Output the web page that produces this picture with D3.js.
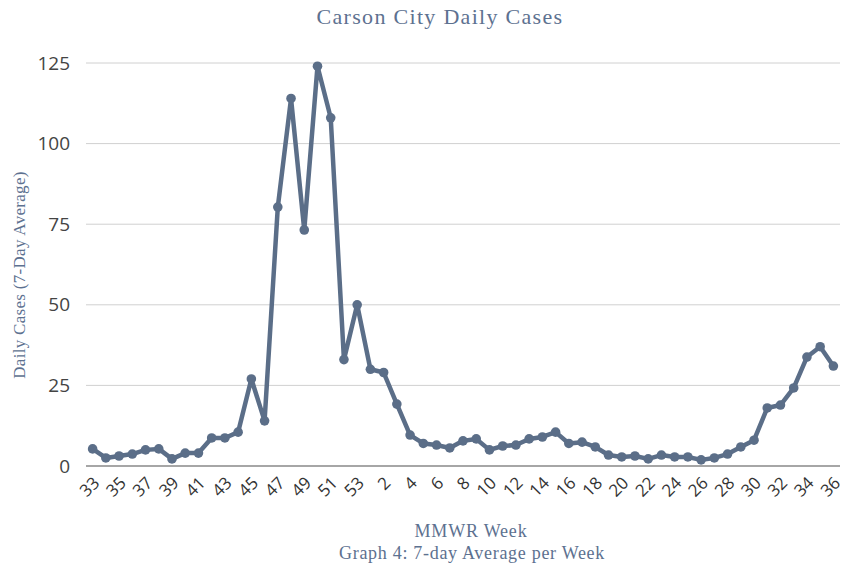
<!DOCTYPE html>
<html>
<head>
<meta charset="utf-8">
<script src="https://cdn.jsdelivr.net/npm/d3@7"></script>
<style>
  body { margin: 0; background: #fff; }
  svg { display: block; }
</style>
</head>
<body>
<div id="chart"></div>
<script>
// MMWR weeks: 33..53 of one year, then 1..36 of the next
const weeks = [
  33, 34, 35, 36, 37, 38, 39, 40, 41, 42, 43, 44, 45, 46, 47, 48, 49, 50, 51, 52, 53,
  1, 2, 3, 4, 5, 6, 7, 8, 9, 10, 11, 12, 13, 14, 15, 16, 17, 18, 19, 20,
  21, 22, 23, 24, 25, 26, 27, 28, 29, 30, 31, 32, 33, 34, 35, 36
];

const dailyCases = [
  5.3, 2.5, 3.1, 3.7, 5.0, 5.3, 2.2, 4.0, 4.0, 8.7, 8.7, 10.5, 27.0, 14.0, 80.3, 114.0, 73.2, 124.0, 108.0, 33.0, 50.0,
  30.0, 29.0, 19.2, 9.6, 7.0, 6.5, 5.6, 7.8, 8.4, 5.0, 6.2, 6.5, 8.4, 9.0, 10.5, 7.0, 7.4, 5.9, 3.4, 2.8,
  3.1, 2.2, 3.4, 2.8, 2.8, 1.9, 2.5, 3.7, 5.9, 8.0, 18.0, 18.9, 24.2, 33.8, 37.0, 31.0
];

const yTicks = [0, 25, 50, 75, 100, 125];

const width = 859;
const height = 567;
const margin = { top: 63, right: 19, bottom: 101, left: 86 };

const lineColor = '#5b6e88';
const textColor = '#5d7190';

// each point gets its own key, since week numbers repeat across years
const data = weeks.map(function (w, i) {
  return { key: i, week: w, value: dailyCases[i] };
});

const svg = d3.select('#chart')
  .append('svg')
  .attr('width', width)
  .attr('height', height);

const x = d3.scaleBand()
  .domain(data.map(function (d) { return d.key; }))
  .range([margin.left, width - margin.right]);

const y = d3.scaleLinear()
  .domain([0, 125])
  .range([height - margin.bottom, margin.top]);

// gridlines
svg.append('g')
  .selectAll('line')
  .data(yTicks.filter(function (t) { return t > 0; }))
  .enter()
  .append('line')
  .attr('x1', margin.left)
  .attr('x2', width - margin.right)
  .attr('y1', function (d) { return y(d); })
  .attr('y2', function (d) { return y(d); })
  .attr('stroke', '#d0d0d0')
  .attr('stroke-width', 1);

// y axis labels
const yAxis = svg.append('g')
  .attr('transform', 'translate(' + margin.left + ',0)')
  .call(d3.axisLeft(y).tickValues(yTicks).tickSize(0).tickPadding(16));
yAxis.select('.domain').remove();
yAxis.selectAll('text')
  .attr('fill', '#444')
  .style('font-family', '"Open Sans", sans-serif')
  .style('font-size', '19px');

// baseline
svg.append('line')
  .attr('x1', margin.left)
  .attr('x2', width - margin.right)
  .attr('y1', y(0))
  .attr('y2', y(0))
  .attr('stroke', '#a6a6a6')
  .attr('stroke-width', 2);

// x axis labels, every other week, rotated
const xAxis = svg.append('g')
  .attr('transform', 'translate(0,' + y(0) + ')')
  .call(d3.axisBottom(x)
    .tickValues(data.filter(function (d, i) { return i % 2 === 0; }).map(function (d) { return d.key; }))
    .tickFormat(function (k) { return weeks[k]; })
    .tickSize(0));
xAxis.select('.domain').remove();
xAxis.selectAll('text')
  .attr('fill', '#333')
  .style('font-family', '"Open Sans", sans-serif')
  .style('font-size', '17px')
  .style('text-anchor', 'end')
  .attr('dy', null)
  .attr('y', 0)
  .attr('transform', 'translate(8,18) rotate(-45)');

// the line
const line = d3.line()
  .x(function (d) { return x(d.key) + x.bandwidth() / 2; })
  .y(function (d) { return y(d.value); });

svg.append('path')
  .datum(data)
  .attr('d', line)
  .attr('fill', 'none')
  .attr('stroke', lineColor)
  .attr('stroke-width', 4.5)
  .attr('stroke-linejoin', 'round');

svg.append('g')
  .selectAll('circle')
  .data(data)
  .enter()
  .append('circle')
  .attr('cx', function (d) { return x(d.key) + x.bandwidth() / 2; })
  .attr('cy', function (d) { return y(d.value); })
  .attr('r', 4.8)
  .attr('fill', lineColor);

// titles
svg.append('text')
  .attr('x', 440)
  .attr('y', 24)
  .attr('text-anchor', 'middle')
  .attr('fill', textColor)
  .style('font-family', '"Liberation Serif", serif')
  .style('font-size', '22px')
  .style('letter-spacing', '1.3px')
  .text('Carson City Daily Cases');

svg.append('text')
  .attr('transform', 'translate(25,' + 275 + ') rotate(-90)')
  .attr('text-anchor', 'middle')
  .attr('fill', textColor)
  .style('font-family', '"Liberation Serif", serif')
  .style('font-size', '17px')
  .style('letter-spacing', '0.3px')
  .text('Daily Cases (7-Day Average)');

svg.append('text')
  .attr('x', 471)
  .attr('y', 537)
  .attr('text-anchor', 'middle')
  .attr('fill', textColor)
  .style('font-family', '"Liberation Serif", serif')
  .style('font-size', '18px')
  .style('letter-spacing', '0.8px')
  .text('MMWR Week');

svg.append('text')
  .attr('x', 472)
  .attr('y', 559)
  .attr('text-anchor', 'middle')
  .attr('fill', textColor)
  .style('font-family', '"Liberation Serif", serif')
  .style('font-size', '18px')
  .style('letter-spacing', '0.7px')
  .text('Graph 4: 7-day Average per Week');
</script>
</body>
</html>
